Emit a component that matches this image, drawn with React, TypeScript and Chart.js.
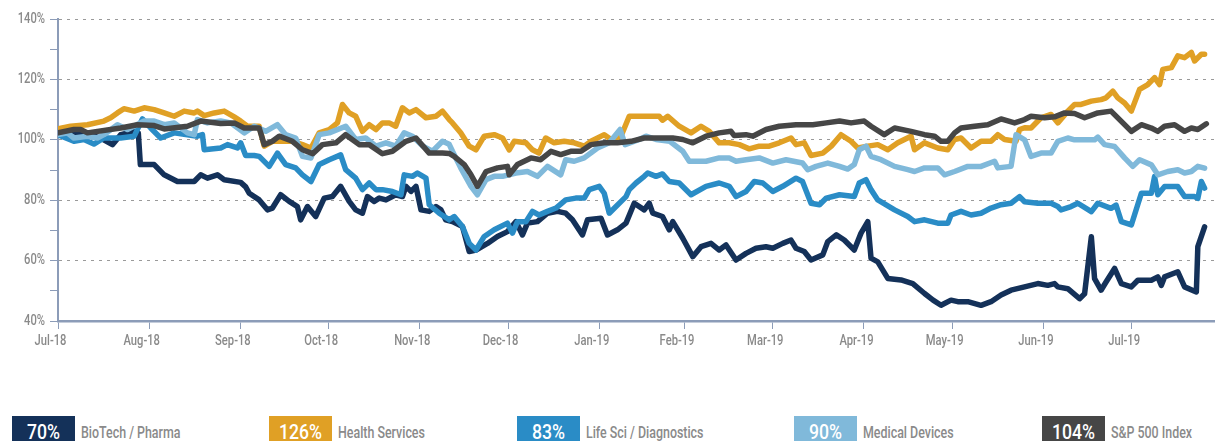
import React, { useEffect, useRef } from "react";
import { Chart, registerables } from "chart.js";

Chart.register(...registerables);

// Day offsets (from 1 Jul 2018) where month ticks sit, and their labels
const monthTickDays = [0, 31, 62, 92, 123, 153, 184, 213, 243, 274, 304, 335, 365];
const monthLabels = [
  "Jul-18", "Aug-18", "Sep-18", "Oct-18", "Nov-18", "Dec-18", "Jan-19",
  "Feb-19", "Mar-19", "Apr-19", "May-19", "Jun-19", "Jul-19",
];
const yLabelValues = [40, 60, 80, 100, 120, 140];

const seriesNames = [
  "BioTech / Pharma",
  "Health Services",
  "Life Sci / Diagnostics",
  "Medical Devices",
  "S&P 500 Index",
];
const seriesReturns = ["70%", "126%", "83%", "90%", "104%"];
const seriesColors = ["#143159", "#e0a025", "#2a8cc6", "#80b9da", "#464646"];

// [day, % of start]
const biotechPharma: [number, number][] = [
  [0, 101.7], [4.3, 102.8], [10, 101.7], [14.5, 100.6], [18.5, 98.4], [21.3, 101.7], [25.9, 102.8], [27.3, 102.3],
  [28, 91.8], [32.7, 91.8], [36.1, 88.4], [40.6, 86.2], [46.3, 86.2], [48.5, 88.4], [50.8, 87.3], [54.2, 88.4],
  [56.5, 86.8], [62.1, 85.9], [63.8, 84.4], [65, 82.3], [68.4, 80.1], [71.2, 76.8], [72.9, 77.4], [75.7, 81.8],
  [78.6, 79.6], [81.4, 77.9], [82.5, 73.5], [84.8, 77.9], [87.6, 74.6], [90.5, 80.7], [93.3, 81.2], [96.1, 84.6],
  [99, 79.6], [101.2, 76.8], [103.5, 75.7], [105.2, 81.2], [107.5, 79.6], [109.2, 80.7], [111.5, 80.1], [114.8, 81.8],
  [117.1, 81.2], [118.3, 84.6], [120, 82.9], [121.7, 84.6], [123.4, 76.8], [126.2, 76.3], [128.5, 77.9], [130.2, 76.8],
  [131.8, 73.5], [134.1, 72.9], [137.5, 71.3], [139.8, 63], [142.1, 63.5], [146, 65.7], [149.4, 68], [152.8, 69.6],
  [155.7, 72.9], [157.9, 68.5], [159.6, 72.4], [163, 72.9], [166.4, 75.7], [169.8, 76.3], [172.6, 75.7], [174.9, 73.5],
  [178.3, 68.5], [180, 73.5], [184.6, 74], [186.8, 68.5], [190.2, 70.2], [193.1, 72.4], [195.9, 79], [199.3, 76.8],
  [201, 79], [202.2, 75.7], [205.5, 74.6], [207.8, 70.2], [209, 72.9], [212.4, 67.4], [215.8, 61.3], [218.6, 64.6],
  [222, 65.7], [224.8, 63.5], [227.1, 65.2], [230.5, 60.2], [233.9, 62.4], [237.3, 64.1], [240.7, 64.6], [243, 64.1],
  [246.4, 65.7], [249.2, 66.8], [250.9, 64.1], [253.7, 63], [256, 60.2], [260, 61.9], [261.7, 66.3], [264.6, 68.5],
  [267.3, 66.8], [270.7, 63.5], [273, 69.1], [275.3, 72.9], [276.4, 60.8], [278.7, 59.6], [282.1, 54.1], [286.6, 53.6],
  [290.6, 52.4], [294.6, 49.1], [297.5, 46.9], [300.2, 45.2], [303.6, 46.9], [305.9, 46.4], [309.3, 46.4], [313.8, 45.2],
  [317.2, 46.4], [320.6, 48.6], [324, 50.2], [328.6, 51.3], [333.1, 52.4], [336.5, 51.8], [338.8, 52.4], [339.9, 51.3],
  [343.3, 50.7], [347.3, 47.4], [349, 49], [351.3, 67.9], [352.4, 54], [354.6, 50.2], [356.3, 52.9], [359.2, 57.4],
  [361.5, 52.4], [364.9, 51.3], [367.1, 53.5], [371.7, 53.5], [373.9, 54.6], [375.1, 51.8], [376.2, 54.6], [380.7, 56.3],
  [383, 51.3], [387, 49.6], [387.5, 64.6], [389.8, 71.2],
];

const healthServices: [number, number][] = [
  [0, 103.6], [4.3, 104.5], [10, 105], [15.6, 106.2], [17.9, 107.3], [20.2, 108.9], [22.4, 110.3], [25.9, 109.5],
  [29.3, 110.6], [32.7, 110], [36.1, 108.9], [39.5, 107.8], [42.9, 109.5], [46.3, 108.9], [47.4, 109.5], [49.7, 108],
  [53.1, 108.9], [56.5, 109.5], [59.9, 107.6], [62.1, 106.2], [64.4, 104.5], [68.4, 104.5], [70.1, 97.9], [72.9, 99.5],
  [79.7, 99.5], [83.1, 98.4], [86, 97.3], [88.8, 102.3], [92.2, 103.4], [95, 105.6], [96.7, 111.7], [99, 108.9],
  [101.2, 107.8], [103.5, 102.8], [105.8, 105], [108.1, 103.4], [110.3, 105.6], [112.6, 105.6], [114.8, 104.5], [117.1, 110.6],
  [119.4, 108.9], [121.7, 110], [125.1, 107.3], [128.5, 107.8], [130.7, 109.5], [133, 106.7], [134.1, 105.6], [136.9, 102.3],
  [139.8, 97.9], [142.1, 96.7], [144.9, 101.2], [148.3, 101.7], [151.1, 100.6], [153.4, 96.7], [155.1, 99.5], [159.1, 99],
  [161.3, 96.7], [163.5, 95.6], [165.8, 100.6], [168.7, 99], [172.1, 99.5], [175.5, 99], [178.9, 97.9], [181.2, 99.5],
  [185.7, 101.7], [188, 100.1], [191.4, 101.2], [194.2, 107.8], [199.3, 107.8], [204.4, 107.8], [205.5, 106.5], [207.3, 107.8],
  [211.2, 104.5], [215.2, 102.3], [218.6, 104.5], [221.4, 102.8], [224.8, 99], [228.2, 99], [231.6, 98.4], [235, 97],
  [238.4, 97.9], [241.8, 97.9], [245.2, 99], [249.2, 100.6], [250.9, 98.4], [253.7, 99], [256, 94.8], [260, 95.6],
  [262.9, 97.9], [266.2, 101.7], [269.6, 99.5], [271.9, 97.3], [275.3, 97.9], [278.7, 98.4], [282.1, 96.7], [285.5, 99],
  [290, 101.2], [291.2, 96.7], [294.6, 99], [299.1, 97.3], [302.5, 96.7], [304.8, 100.1], [307, 100.6], [310.4, 97.3],
  [313.8, 99.5], [317.2, 99.5], [319.5, 101.7], [321.8, 100.1], [325.7, 99.5], [326.9, 103.4], [328.6, 104], [330.8, 103.9],
  [334.2, 107.3], [337.6, 108.4], [339.9, 105.6], [343.3, 109.5], [345.6, 111.7], [347.8, 111.7], [351.3, 112.8], [354.6, 113.3],
  [356.3, 113.9], [358.6, 116.1], [360.3, 113.9], [362.6, 112.2], [364.9, 109.5], [367.7, 116.7], [370.5, 118.3], [372.8, 120.6],
  [374.5, 118.3], [375.6, 123.3], [378.5, 123.9], [380.7, 127.8], [383, 127.2], [385.3, 128.9], [386.4, 126.1], [388.7, 128.3],
  [389.8, 128.3],
];

const lifeSciDiagnostics: [number, number][] = [
  [0, 101.7], [5.4, 99.5], [8.8, 100.1], [12.2, 98.6], [15.6, 100.6], [21.3, 100.6], [25.9, 101.2], [28.7, 106.9],
  [31.5, 103.9], [34.9, 100.6], [39.5, 102.3], [44, 101.7], [47.4, 101.2], [49.1, 101.7], [49.7, 96.7], [55.3, 97.3],
  [57.6, 98.4], [61, 97.3], [62.1, 99], [63.8, 94.8], [66.7, 94.8], [68.4, 94.5], [71.8, 91.2], [74.6, 95.6],
  [77.4, 91.8], [80.8, 90.7], [83.1, 88.4], [86, 86.2], [88.8, 91.8], [92.2, 93.4], [96.1, 95], [97.8, 90.1],
  [101.2, 87.3], [103.5, 83.5], [105.8, 85.7], [108.1, 83.5], [110.3, 83.5], [113.7, 82.9], [116.6, 81.8], [117.7, 88.4],
  [120.5, 87.9], [122.2, 89], [125.1, 87.3], [126.2, 78.5], [129.6, 75.7], [133, 73.5], [134.7, 74.6], [137.5, 71.3],
  [139.8, 65.7], [142.1, 63.5], [144.9, 68], [148.3, 70.2], [152.8, 72.4], [154.5, 69.1], [156.2, 72.9], [159.1, 72.9],
  [161.3, 76.3], [163.5, 75.1], [166.4, 76.3], [169.3, 77.4], [172.6, 80.1], [176, 80.7], [178.9, 80.7], [180.6, 83.5],
  [184, 84.6], [185.7, 82.3], [187.4, 75.7], [189.7, 77.9], [193.1, 81.2], [194.2, 83.5], [196.5, 85.7], [199.3, 87.9],
  [200.5, 89], [203.3, 87.9], [205.5, 88.7], [207.8, 86.2], [211.2, 85.7], [215.2, 81.8], [220.3, 84.6], [224.8, 85.7],
  [228.2, 84.6], [230.5, 81.2], [233.9, 82.9], [236.7, 86.2], [239.6, 85.7], [243, 82.9], [246.4, 84.6], [250.9, 87.3],
  [253.1, 86.2], [256, 79], [258.9, 78.5], [261.2, 80.7], [265.7, 81.8], [270.7, 81.2], [272.4, 85.7], [274.7, 86.8],
  [276.4, 83.5], [278.7, 80.1], [284.4, 76.8], [288.9, 74.6], [291.2, 72.9], [294.6, 73.5], [299.1, 72.4], [302.5, 72.4],
  [303.6, 75.1], [307, 76.3], [310.4, 75.1], [313.8, 75.7], [317.2, 77.4], [320.6, 78.5], [324, 79], [326.9, 81.2],
  [328.6, 79.5], [333.1, 79], [337.6, 79], [339.9, 77.9], [341, 76.8], [344.4, 77.9], [346.7, 79], [351.3, 76.2],
  [353.5, 79], [358, 77.3], [359.7, 78.4], [361.5, 72.9], [364.9, 71.8], [368.3, 82.3], [371.7, 82.3], [372.8, 87.8],
  [373.9, 81.8], [376.2, 84.5], [380.7, 84.5], [383, 81.2], [386.4, 81.2], [387.5, 80.6], [388.7, 86.2], [389.8, 84],
];

const medicalDevices: [number, number][] = [
  [0, 101.7], [3.2, 102.3], [5.4, 100.6], [10, 101.2], [13.4, 100.6], [15.6, 101.7], [20.2, 105], [23.6, 103.4],
  [29.3, 106.2], [32.7, 106.2], [36.1, 105], [39.5, 105.6], [44, 102.3], [46.3, 101.7], [47.4, 106.7], [50.8, 105.6],
  [55.3, 106.2], [58.7, 105.6], [63.3, 102.3], [66.7, 104.5], [70.6, 102.8], [74.6, 105], [77.4, 101.7], [80.8, 100.6],
  [83.1, 94.5], [86, 94], [88.8, 101.7], [92.2, 102.3], [97.8, 104.5], [101.2, 100.1], [104.6, 100.6], [108.1, 97.9],
  [111.5, 99], [114.8, 97.9], [117.7, 102.3], [120.5, 101.2], [124, 97.9], [127.3, 96.2], [130.7, 99.5], [133, 98.5],
  [134.1, 96.2], [136.9, 90.7], [140.4, 84.6], [142.6, 81.8], [145.5, 86.8], [148.3, 87.9], [151.1, 87.9], [155.7, 89],
  [159.6, 89.5], [163, 87.9], [166.4, 91.2], [170.9, 88.4], [172.6, 93.4], [175.5, 92.9], [178.9, 94], [183.4, 97.3],
  [187.4, 99], [191.1, 103.4], [192.8, 98.4], [197.6, 100.1], [199.9, 101.2], [203.3, 100.1], [208, 99.5], [212.4, 96.2],
  [214.6, 92.9], [220.3, 92.9], [224.8, 94], [228.2, 94], [230.5, 92.9], [233.9, 93.4], [238.4, 94], [243, 92.3],
  [247.5, 93.4], [253.1, 92.3], [254.9, 90.1], [257.7, 91.2], [261.7, 92.3], [265.7, 91.2], [268.5, 90.3], [270.7, 91.8],
  [272.4, 96.7], [274.7, 97.9], [276.4, 94.5], [279.8, 93.4], [284.4, 91.2], [288.9, 90.1], [291.2, 89.5], [294.6, 90.7],
  [299.1, 90.7], [301.4, 88.4], [304.8, 89.5], [309.3, 91.2], [313.8, 91.2], [318.4, 92.9], [319.5, 90.7], [324, 91.2],
  [325.7, 101.7], [328.6, 100], [330.8, 94.5], [334.2, 95.6], [337.6, 95.6], [339.9, 99.5], [343.3, 100.6], [345.6, 100],
  [347.8, 100], [352.4, 100], [353.5, 100.9], [355.8, 98.4], [359.2, 97.8], [362.6, 94], [365.4, 91.2], [367.7, 93.4],
  [371.7, 91.7], [373.9, 88.4], [377.3, 89.5], [380.7, 90.1], [383, 89], [385.3, 89.5], [387.5, 91.2], [389.8, 90.6],
];

const sp500Index: [number, number][] = [
  [0, 102.3], [5.4, 103.4], [7.7, 103.4], [10, 102.3], [21.3, 103.9], [27, 105], [32.7, 104.7], [36.1, 103.6],
  [44, 104.5], [48.5, 106.2], [55.3, 105.4], [59.9, 105.6], [63.3, 103.9], [68.4, 103.9], [70.1, 98.4], [72.9, 99.5],
  [75.2, 101.2], [79.7, 99.5], [83.1, 96.7], [86.6, 95.4], [89.9, 98.4], [94.5, 99], [97.8, 101.7], [102.4, 98.4],
  [105.8, 98.4], [110.3, 95.4], [113.7, 96.2], [118.3, 99.5], [121.7, 100.6], [126.2, 95.6], [130.7, 95.6], [133, 95.5],
  [134.7, 94.5], [138.1, 91.8], [140.4, 88.4], [142.6, 84.6], [145.5, 89.5], [149.4, 90.7], [152.8, 91.2], [153.4, 88.4],
  [156.2, 91.8], [160.8, 94], [164.1, 93.4], [167.6, 96.2], [170.9, 95.1], [174.3, 96.2], [177.8, 96.2], [181.2, 98.4],
  [185.7, 99], [190.2, 99], [194.8, 99.5], [199.3, 100.6], [204.4, 100.6], [209, 100.6], [212.4, 100.1], [215.8, 99],
  [220.3, 101.2], [224.8, 102.3], [228.8, 102.8], [229.9, 101.4], [233.9, 101.7], [236.2, 101.2], [240.7, 103.4], [245.2, 104.5],
  [250.9, 105], [256.6, 105], [261.2, 105.6], [265.7, 106.2], [269.6, 105.6], [274.1, 106.2], [276.4, 104.5], [280.9, 101.7],
  [284.4, 103.9], [290, 102.8], [294.6, 101.7], [298, 101.2], [300.2, 99.5], [302.5, 99.5], [304.8, 102.3], [307, 103.9],
  [311.6, 104.5], [316.1, 105], [320.6, 106.9], [325.2, 105.6], [328.6, 106.7], [330.8, 107.8], [335.4, 107.3], [338.8, 107.6],
  [342.2, 108.9], [345.6, 108.7], [349, 107.3], [353.5, 108.9], [358, 109.5], [361.5, 106.1], [364.9, 102.8], [368.3, 105],
  [371.7, 103.9], [373.9, 102.8], [376.2, 104.5], [379.6, 105], [383, 102.8], [385.3, 103.9], [387.5, 103.4], [390.4, 105.3],
];

const seriesPoints = [biotechPharma, healthServices, lifeSciDiagnostics, medicalDevices, sp500Index];

const FONT = 'Roboto, "DejaVu Sans Condensed", sans-serif';
const AXIS_COLOR = "#8c9cb8";
const LABEL_COLOR = "#8a8a8a";
const SQUEEZE = 0.8;

const legendLefts = [12, 269, 517, 794, 1042];

// Draws the axis labels in a narrowed (condensed-looking) face
const condensedLabels = {
  id: "condensedLabels",
  afterDraw(chart: any) {
    const { ctx, scales } = chart;
    const xs = scales.x;
    const ys = scales.y;
    ctx.save();
    ctx.fillStyle = LABEL_COLOR;
    ctx.font = `500 14px ${FONT}`;
    ctx.textBaseline = "middle";
    monthTickDays.forEach((d, i) => {
      const px = xs.getPixelForValue(d) - 7.5;
      ctx.save();
      ctx.translate(px, xs.top + 20);
      ctx.scale(SQUEEZE, 1);
      ctx.textAlign = "center";
      ctx.fillText(monthLabels[i], 0, 0);
      ctx.restore();
    });
    yLabelValues.forEach((v) => {
      const py = ys.getPixelForValue(v);
      ctx.save();
      ctx.translate(ys.right - 13, py);
      ctx.scale(SQUEEZE, 1);
      ctx.textAlign = "right";
      ctx.fillText(`${v}%`, 0, 0);
      ctx.restore();
    });
    ctx.restore();
  },
};

function ChartCanvas() {
  const ref = useRef<HTMLCanvasElement | null>(null);
  useEffect(() => {
    if (!ref.current) return;
    const chart = new Chart(ref.current, {
      type: "line",
      data: {
        datasets: seriesPoints.map((pts, i) => ({
          label: seriesNames[i],
          data: pts.map(([x, y]) => ({ x, y })),
          borderColor: seriesColors[i],
          backgroundColor: seriesColors[i],
          borderWidth: 5.5,
          pointRadius: 0,
          tension: 0,
          fill: false,
          borderJoinStyle: "round" as const,
          borderCapStyle: "round" as const,
          order: seriesPoints.length - 1 - i,
        })),
      },
      options: {
        animation: false,
        responsive: true,
        maintainAspectRatio: false,
        layout: { padding: { top: 19, right: 11, left: 0, bottom: 0 } },
        plugins: { legend: { display: false }, tooltip: { enabled: false } },
        scales: {
          x: {
            type: "linear",
            min: 0,
            max: 393,
            afterBuildTicks: (scale: any) => {
              scale.ticks = monthTickDays.map((v) => ({ value: v }));
            },
            afterFit: (scale: any) => {
              scale.height = 39;
            },
            ticks: { display: false, autoSkip: false, maxRotation: 0 },
            grid: {
              drawOnChartArea: false,
              drawTicks: true,
              tickLength: 8,
              tickColor: AXIS_COLOR,
              tickWidth: 1,
            },
            border: { display: true, color: AXIS_COLOR, width: 2.5 },
          },
          y: {
            min: 40,
            max: 140,
            afterFit: (scale: any) => {
              scale.width = 58;
            },
            ticks: { display: false, stepSize: 10 },
            grid: {
              color: (ctx: any) =>
                ctx.tick && ctx.tick.value % 20 === 0 && ctx.tick.value !== 40 ? "#9a9a9a" : "rgba(0,0,0,0)",
              lineWidth: 1,
              drawTicks: true,
              tickLength: 8,
              tickColor: AXIS_COLOR,
              tickWidth: 1,
            },
            border: { display: true, color: AXIS_COLOR, width: 2, dash: [3, 5] },
          },
        },
      },
      plugins: [condensedLabels],
    } as any);
    return () => chart.destroy();
  }, []);
  return (
    <div style={{ position: "absolute", left: 0, top: 0, width: 1225, height: 360 }}>
      <canvas ref={ref} />
    </div>
  );
}

function Legend() {
  return (
    <>
      {seriesNames.map((name, i) => (
        <React.Fragment key={name}>
          <div
            style={{
              position: "absolute",
              left: legendLefts[i],
              top: 416,
              width: 63,
              height: 30,
              background: seriesColors[i],
            }}
          >
            <span
              style={{
                position: "absolute",
                left: 0,
                width: 63,
                top: 5,
                textAlign: "center",
                color: "#ffffff",
                fontFamily: FONT,
                fontSize: 21,
                lineHeight: "22px",
                fontWeight: 500,
                transform: `scaleX(${SQUEEZE + 0.04})`,
                transformOrigin: "center",
                whiteSpace: "nowrap",
              }}
            >
              {seriesReturns[i]}
            </span>
          </div>
          <span
            style={{
              position: "absolute",
              left: legendLefts[i] + 69,
              top: 423,
              color: LABEL_COLOR,
              fontFamily: FONT,
              fontSize: 17,
              lineHeight: "18px",
              fontWeight: 500,
              whiteSpace: "nowrap",
              transform: "scaleX(0.73)",
              transformOrigin: "left center",
            }}
          >
            {name}
          </span>
        </React.Fragment>
      ))}
    </>
  );
}

export default function App() {
  return (
    <div
      style={{
        position: "fixed",
        left: 0,
        top: 0,
        width: 1225,
        height: 441,
        overflow: "hidden",
        background: "#ffffff",
      }}
    >
      <ChartCanvas />
      <Legend />
    </div>
  );
}
